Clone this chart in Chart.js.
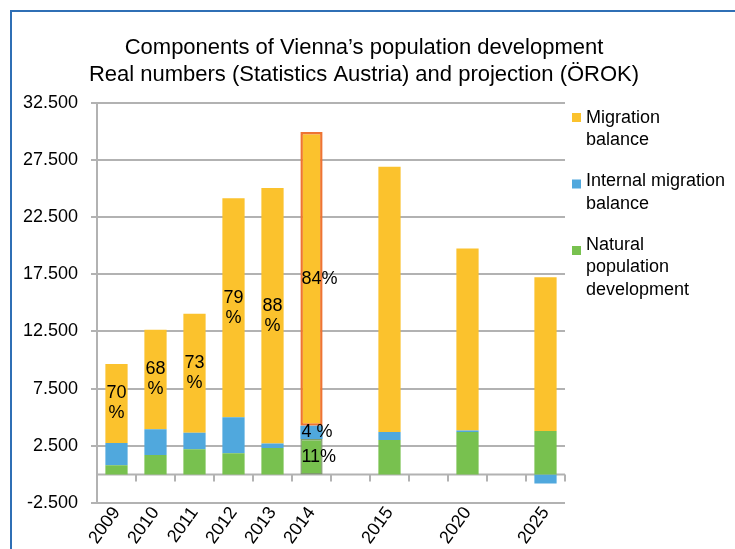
<!DOCTYPE html>
<html>
<head>
<meta charset="utf-8">
<script src="https://cdn.jsdelivr.net/npm/chart.js@4.4.1/dist/chart.umd.min.js"></script>
<style>
  html, body { margin: 0; padding: 0; background: #fff; }
  #wrap { position: relative; width: 735px; height: 549px; overflow: hidden; }
  #frame { position: absolute; left: 10px; top: 10px; right: -4px; bottom: -4px;
           border-left: 2px solid #2F6FB5; border-top: 2px solid #2F6FB5; }
  canvas { position: absolute; left: 0; top: 0; }
</style>
</head>
<body>
<div id="wrap">
  <div id="frame"></div>
  <canvas id="popChart" width="735" height="549"></canvas>
</div>
<script>
// categories (blank slots keep the gaps between projection years)
const years = ['2009', '2010', '2011', '2012', '2013', '2014', '', '2015', '', '2020', '', '2025'];

// series values
const natural   = [800, 1700, 2200, 1850, 2300, 3100, null, 3000, null, 3700, null, 3800];
const internal  = [1950, 2250, 1450, 3150, 400, 1150, null, 700, null, 150, null, -800];
const migration = [6900, 8700, 10400, 19150, 22350, 25700, null, 23200, null, 15900, null, 13450];

// percentage labels shown inside the bars
const pctNatural   = ['', '', '', '', '', '11%', '', '', '', '', '', ''];
const pctInternal  = ['', '', '', '', '', '4 %', '', '', '', '', '', ''];
const pctMigration = ['70\n%', '68\n%', '73\n%', '79\n%', '88\n%', '84%', '', '', '', '', '', ''];

// legend text, as it wraps in the picture
const legendNatural   = ['Natural', 'population', 'development'];
const legendInternal  = ['Internal migration', 'balance'];
const legendMigration = ['Migration', 'balance'];

const yMin = -2500, yMax = 32500, yStep = 5000;
const highlightYear = '2014';

const FONT = '"Liberation Sans", Arial, sans-serif';
const YELLOW = '#FBC22D', BLUE = '#50A8DD', GREEN = '#78C14F', GRID = '#B2B2B2';

function isHighlight(ctx) {
    return years[ctx.dataIndex] === highlightYear;
}

// 32500 -> "32.500"
function formatThousands(v) {
    const s = Math.abs(v).toString().replace(/\B(?=(\d{3})+(?!\d))/g, '.');
    return (v < 0 ? '-' : '') + s;
}

// Labels in the bar segments
const pctLabels = [pctNatural, pctInternal, pctMigration];
const barLabelPlugin = {
    id: 'barLabels',
    afterDatasetsDraw(chart) {
        const ctx = chart.ctx;
        ctx.save();
        ctx.font = '18px ' + FONT;
        ctx.fillStyle = '#000';
        ctx.textBaseline = 'middle';
        chart.data.datasets.forEach((ds, di) => {
            const meta = chart.getDatasetMeta(di);
            meta.data.forEach((bar, i) => {
                const txt = pctLabels[di][i];
                if (!txt) return;
                const p = bar.getProps(['x', 'y', 'base', 'width'], true);
                const lines = txt.split('\n');
                const cy = (p.y + p.base) / 2;
                const lh = 20;
                lines.forEach((line, li) => {
                    const w = ctx.measureText(line).width;
                    let x = p.x;
                    if (w > p.width) {
                        ctx.textAlign = 'left';
                        x = p.x - p.width / 2 + 1;
                    } else {
                        ctx.textAlign = 'center';
                    }
                    ctx.fillText(line, x, cy + (li - (lines.length - 1) / 2) * lh);
                });
            });
        });
        ctx.restore();
    }
};

// Category axis drawn at zero, with tick marks between categories
const zeroAxisPlugin = {
    id: 'zeroAxis',
    beforeDatasetsDraw(chart) {
        const { ctx, chartArea, scales } = chart;
        const y0 = scales.y.getPixelForValue(0);
        const n = years.length;
        const step = (chartArea.right - chartArea.left) / n;
        ctx.save();
        ctx.strokeStyle = GRID;
        ctx.lineWidth = 2;
        ctx.beginPath();
        ctx.moveTo(chartArea.left, y0);
        ctx.lineTo(chartArea.right, y0);
        for (let i = 0; i <= n; i++) {
            const px = Math.round(chartArea.left + i * step);
            ctx.moveTo(px, y0);
            ctx.lineTo(px, y0 + 7);
        }
        ctx.stroke();
        ctx.restore();
    }
};

// Legend on the right with wrapped text
const legendLines = [legendNatural, legendInternal, legendMigration];
const sideLegendPlugin = {
    id: 'sideLegend',
    afterDraw(chart) {
        const ctx = chart.ctx;
        const left = chart.chartArea.right + 21;
        let y = 118;
        ctx.save();
        ctx.font = '18px ' + FONT;
        ctx.fillStyle = '#000';
        ctx.textBaseline = 'middle';
        ctx.textAlign = 'left';
        for (let di = chart.data.datasets.length - 1; di >= 0; di--) {
            const ds = chart.data.datasets[di];
            const lines = legendLines[di];
            ctx.fillStyle = ds.backgroundColor;
            ctx.fillRect(left - 14, y - 5 + (2 - di) * 3, 9, 9);
            ctx.fillStyle = '#000';
            lines.forEach((line, li) => ctx.fillText(line, left, y + li * 22.5));
            y += lines.length * 22.5 + 18.5;
        }
        ctx.restore();
    }
};

const ctx = document.getElementById('popChart').getContext('2d');
new Chart(ctx, {
    type: 'bar',
    data: {
        labels: years,
        datasets: [
            {
                label: legendNatural.join(' '),
                data: natural,
                backgroundColor: GREEN,
                borderColor: c => isHighlight(c) ? '#7E9A6C' : GREEN,
                borderWidth: c => isHighlight(c) ? 1.5 : 0,
                borderSkipped: false
            },
            {
                label: legendInternal.join(' '),
                data: internal,
                backgroundColor: BLUE,
                borderWidth: 0
            },
            {
                label: legendMigration.join(' '),
                data: migration,
                backgroundColor: YELLOW,
                borderColor: c => isHighlight(c) ? '#EE7433' : YELLOW,
                borderWidth: c => isHighlight(c) ? 2.5 : 0,
                borderSkipped: false
            }
        ]
    },
    options: {
        responsive: false,
        animation: false,
        devicePixelRatio: 1,
        categoryPercentage: 1,
        barPercentage: 0.57,
        layout: { padding: { top: 10, right: 7, bottom: 0, left: 0 } },
        scales: {
            x: {
                stacked: true,
                grid: { display: false, drawTicks: false, tickLength: 0 },
                border: { display: false },
                ticks: {
                    autoSkip: false,
                    minRotation: 54,
                    maxRotation: 54,
                    padding: 0,
                    color: '#000',
                    font: { family: FONT, size: 18 }
                },
                afterFit: scale => { scale.height = 46; }
            },
            y: {
                stacked: true,
                min: yMin,
                max: yMax,
                ticks: {
                    stepSize: yStep,
                    padding: 13,
                    color: '#000',
                    font: { family: FONT, size: 18 },
                    callback: value => formatThousands(value)
                },
                grid: { color: GRID, lineWidth: 2, tickLength: 6 },
                border: { color: GRID, width: 2 },
                afterFit: scale => { scale.width = 97; }
            },
            yRight: {
                position: 'right',
                display: true,
                ticks: { display: false },
                grid: { display: false },
                border: { display: false },
                afterFit: scale => { scale.width = 163; }
            }
        },
        plugins: {
            legend: { display: false },
            tooltip: { enabled: false },
            title: {
                display: true,
                text: ['Components of Vienna\u2019s population development',
                       'Real numbers (Statistics Austria) and projection (\u00D6ROK)'],
                color: '#000',
                font: { family: FONT, size: 22, weight: 'normal', lineHeight: 1.2 },
                padding: { top: 25, bottom: 15 }
            }
        }
    },
    plugins: [zeroAxisPlugin, barLabelPlugin, sideLegendPlugin]
});
</script>
</body>
</html>
